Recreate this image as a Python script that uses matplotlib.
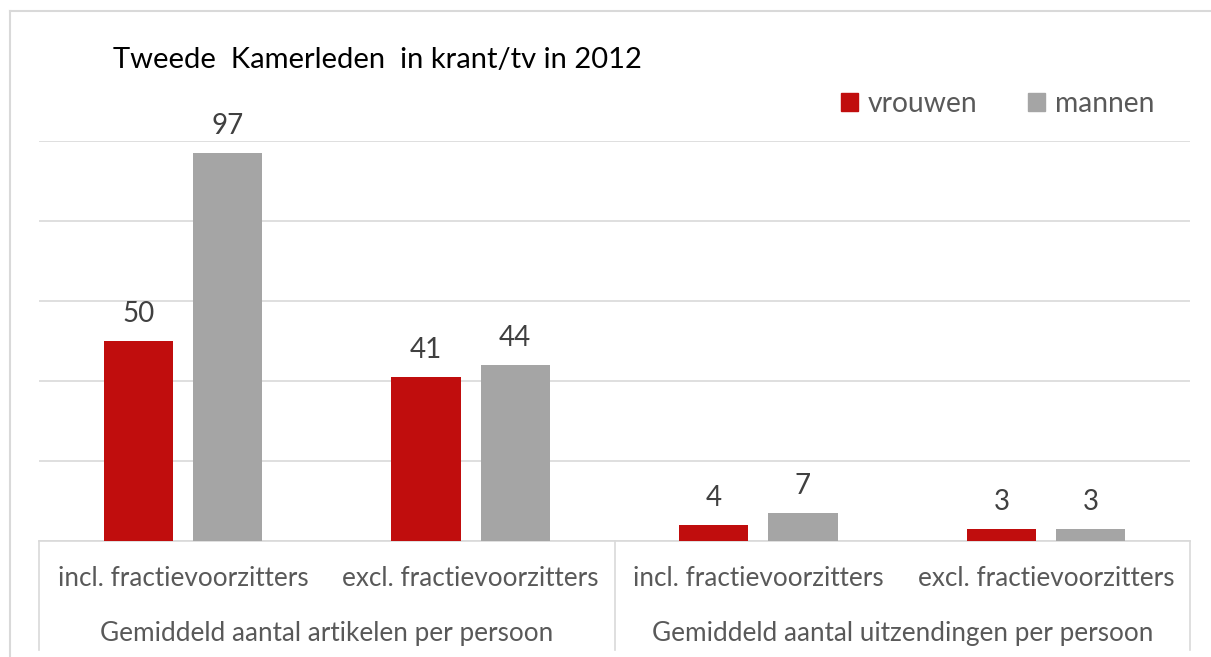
import matplotlib.pyplot as plt
from matplotlib.patches import Patch
import numpy as np

# --- data ---
subcats = ["incl. fractievoorzitters", "excl. fractievoorzitters",
           "incl. fractievoorzitters", "excl. fractievoorzitters"]
groups = ["Gemiddeld aantal artikelen per persoon",
          "Gemiddeld aantal uitzendingen per persoon"]
vrouwen = [50, 41, 4, 3]
mannen = [97, 44, 7, 3]

RED = "#C00D0D"
GRAY = "#A5A5A5"
TXT = "#595959"
plt.rcParams['font.family'] = ['Lato', 'DejaVu Sans']

fig = plt.figure(figsize=(12.11, 6.57), dpi=100)
W, H = 1211, 657
ax = fig.add_axes([39 / W, 1 - 541 / H, (1190 - 39) / W, 400 / H])

x = np.arange(len(subcats))
bw = 0.24
off = 0.155
b1 = ax.bar(x - off, vrouwen, bw, color=RED, zorder=3)
b2 = ax.bar(x + off, mannen, bw, color=GRAY, zorder=3)
for bars in (b1, b2):
    for r in bars:
        ax.text(r.get_x() + r.get_width() / 2, r.get_height() + 3.5, f"{r.get_height():.0f}",
                ha="center", va="bottom", fontsize=20, color="#404040")

ax.set_xlim(-0.5, 3.5)
ax.set_ylim(0, 100)
ax.set_yticks([0, 20, 40, 60, 80, 100])
ax.yaxis.grid(True, color="#D9D9D9", linewidth=1.2, zorder=0)
ax.tick_params(left=False, labelleft=False, bottom=False, labelbottom=False)
for s in ("left", "right", "top"):
    ax.spines[s].set_visible(False)
ax.spines["bottom"].set_color("#D9D9D9")
ax.spines["bottom"].set_linewidth(1.2)

# two-level category axis
trans = ax.get_xaxis_transform()
for sx in (-0.5, 1.5, 3.5):
    ax.plot([sx, sx], [0, -0.2725], transform=trans, color="#D9D9D9",
            linewidth=1.2, clip_on=False)
for i, lab in enumerate(subcats):
    ax.text(i, -0.095, lab, transform=trans, ha="center", va="center",
            fontsize=18.8, color=TXT)
for g, lab in enumerate(groups):
    ax.text(2 * g + 0.5, -0.23, lab, transform=trans, ha="center", va="center",
            fontsize=18.8, color=TXT)

fig.text(113 / W, 1 - 60 / H, "Tweede  Kamerleden  in krant/tv in 2012",
         ha="left", va="center", fontsize=21, color="black")

handles = [Patch(color=RED, label="vrouwen"), Patch(color=GRAY, label="mannen")]
fig.legend(handles=handles, loc="center right", bbox_to_anchor=(1168 / W, 1 - 104 / H),
           ncol=2, frameon=False, fontsize=20.3, handlelength=0.6, handleheight=0.6,
           handletextpad=0.35, columnspacing=1.8, labelcolor=TXT, borderpad=0)

# outer chart border
fig.add_artist(plt.Line2D([10 / W, 1], [1 - 11 / H, 1 - 11 / H], color="#D9D9D9",
                          linewidth=1.5, transform=fig.transFigure))
fig.add_artist(plt.Line2D([10 / W, 10 / W], [0, 1 - 11 / H], color="#D9D9D9",
                          linewidth=1.5, transform=fig.transFigure))

fig.savefig("out.png", dpi=100)
